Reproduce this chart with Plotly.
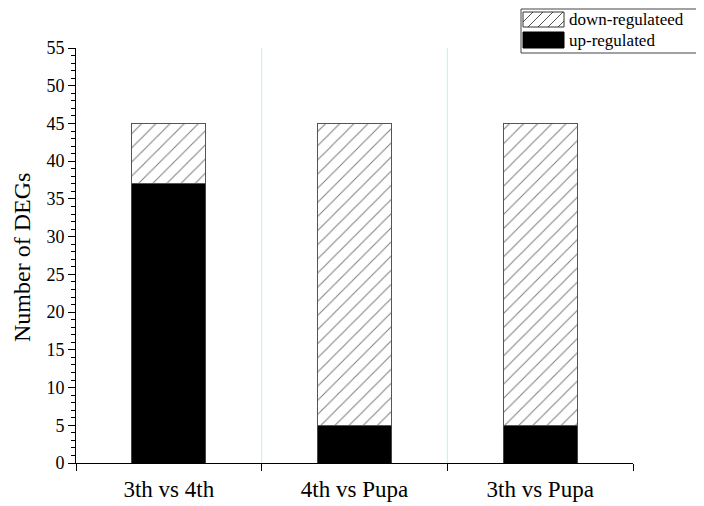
import plotly.graph_objects as go

categories = ["3th vs 4th", "4th vs Pupa", "3th vs Pupa"]
up_regulated = [37, 5, 5]
down_regulated = [8, 40, 40]
y_ticks = list(range(0, 56, 5))

# page body has an 8px margin; figure sized to fit the window
OFF = 8
W, H = 696, 498
ml, mt = 68, 40
mr = W - (633 - OFF)
mb = H - (463 - OFF)
pw, ph = W - ml - mr, H - mt - mb

def px(sx):
    return (sx - OFF - ml) / pw

def py(sy):
    return (H - mb - (sy - OFF)) / ph

font = "Liberation Serif, Times New Roman, serif"

fig = go.Figure()
fig.add_trace(go.Bar(
    x=categories, y=up_regulated, name="up-regulated",
    marker=dict(color="black", line=dict(color="#444", width=1)),
    width=0.40, showlegend=False,
))
fig.add_trace(go.Bar(
    x=categories, y=down_regulated, name="down-regulateed",
    marker=dict(color="white", line=dict(color="#555", width=1),
                pattern=dict(shape="/", fgcolor="#000", bgcolor="white", size=10, solidity=0.1)),
    width=0.40, showlegend=False,
))

shapes = []
for i in range(len(categories) - 1):
    shapes.append(dict(type="line", xref="x", yref="paper", x0=i + 0.5, x1=i + 0.5, y0=0, y1=1,
                       line=dict(color="#b8f2ec", width=1), layer="below"))

# custom legend
shapes.append(dict(type="rect", xref="paper", yref="paper", x0=px(521), x1=px(702), y0=py(9), y1=py(53),
                   line=dict(color="#444", width=1), fillcolor="white"))
sx0, sx1, sy0, sy1 = 523, 564, 12, 27
shapes.append(dict(type="rect", xref="paper", yref="paper", x0=px(sx0), x1=px(sx1), y0=py(sy0), y1=py(sy1),
                   line=dict(color="#333", width=1), fillcolor="white"))
step = 10
hgt = sy1 - sy0
k = sx0 - hgt
while k < sx1:
    ax, ay = k, sy1
    bx, by = k + hgt, sy0
    if ax < sx0:
        ay = sy1 - (sx0 - ax)
        ax = sx0
    if bx > sx1:
        by = sy0 + (bx - sx1)
        bx = sx1
    if ax < bx:
        shapes.append(dict(type="line", xref="paper", yref="paper", x0=px(ax), y0=py(ay), x1=px(bx), y1=py(by),
                           line=dict(color="#222", width=0.8)))
    k += step
shapes.append(dict(type="rect", xref="paper", yref="paper", x0=px(523), x1=px(564), y0=py(32), y1=py(48),
                   line=dict(color="black", width=1), fillcolor="black"))

annotations = [
    dict(xref="paper", yref="paper", x=px(567), y=py(20), text="down-regulateed", showarrow=False,
         xanchor="left", yanchor="middle", font=dict(family=font, size=17, color="black")),
    dict(xref="paper", yref="paper", x=px(567), y=py(40), text="up-regulated", showarrow=False,
         xanchor="left", yanchor="middle", font=dict(family=font, size=17, color="black")),
    dict(xref="paper", yref="paper", x=px(22), y=py(258), text="Number of DEGs", showarrow=False,
         textangle=-90, xanchor="center", yanchor="middle", font=dict(family=font, size=24, color="black")),
]

fig.update_layout(
    width=W, height=H,
    margin=dict(l=ml, r=mr, t=mt, b=mb, autoexpand=False),
    barmode="stack",
    plot_bgcolor="white", paper_bgcolor="white",
    font=dict(family=font, size=18, color="black"),
    shapes=shapes, annotations=annotations,
    xaxis=dict(type="category", tickson="boundaries", ticks="outside", ticklen=7, tickcolor="black",
               showline=True, linecolor="black", linewidth=1, showgrid=False, automargin=False,
               range=[-0.5, 2.5], tickfont=dict(size=23), ticklabelstandoff=5),
    yaxis=dict(range=[0, 55], tickvals=y_ticks, ticks="outside", ticklen=7, tickcolor="black",
               showline=True, linecolor="black", linewidth=1, showgrid=False, zeroline=False,
               automargin=False,
               minor=dict(ticks="outside", dtick=1, ticklen=4, tickcolor="black", showgrid=False),
               tickfont=dict(size=18)),
)

fig.write_html("out.html")
